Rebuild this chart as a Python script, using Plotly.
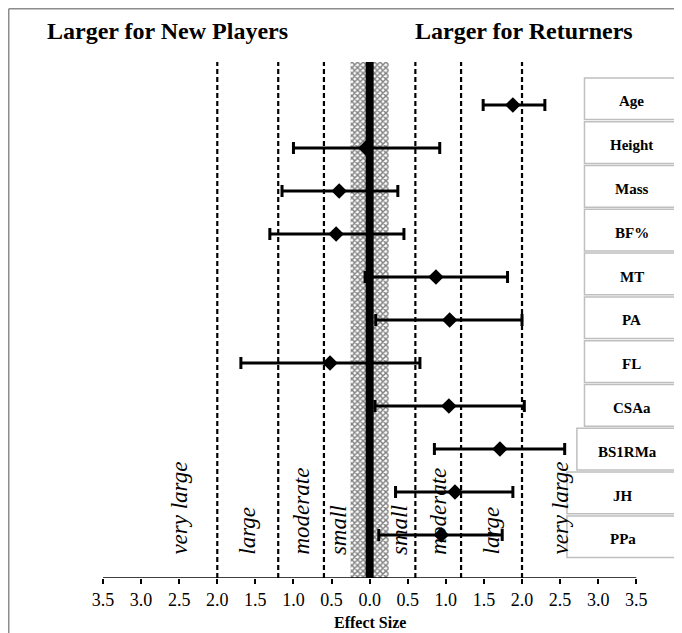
import plotly.graph_objects as go

# ---- data ----
labels = ["Age", "Height", "Mass", "BF%", "MT", "PA", "FL", "CSAa", "BS1RMa", "JH", "PPa"]
effect = [1.88, -0.05, -0.40, -0.44, 0.87, 1.05, -0.52, 1.04, 1.71, 1.12, 0.94]
ci_low = [1.49, -1.00, -1.15, -1.31, -0.06, 0.08, -1.69, 0.07, 0.85, 0.34, 0.12]
ci_high = [2.30, 0.92, 0.37, 0.45, 1.81, 2.00, 0.66, 2.03, 2.56, 1.88, 1.74]

thresholds = [0.6, 1.2, 2.0]
trivial = 0.25
zone_names = ["small", "moderate", "large", "very large"]
zone_centers = [0.4, 0.9, 1.6, 2.5]
tick_vals = [-3.5, -3.0, -2.5, -2.0, -1.5, -1.0, -0.5, 0.0, 0.5, 1.0, 1.5, 2.0, 2.5, 3.0, 3.5]

FONT = "Liberation Serif, Times New Roman, serif"
n = len(labels)
rows = [n - i for i in range(n)]  # Age at top
top_y = n + 1

fig = go.Figure()

# trivial band (patterned)
fig.add_trace(go.Scatter(
    x=[-trivial, trivial, trivial, -trivial, -trivial],
    y=[0, 0, top_y, top_y, 0],
    fill="toself", mode="lines", line=dict(width=0),
    fillcolor="black",
    fillpattern=dict(shape="x", size=4, solidity=0.6, fgcolor="black", bgcolor="white"),
    hoverinfo="skip", showlegend=False))

# effect sizes with CI
fig.add_trace(go.Scatter(
    x=effect, y=rows, mode="markers",
    marker=dict(symbol="diamond", size=12, color="black"),
    error_x=dict(type="data", symmetric=False,
                 array=[h - e for h, e in zip(ci_high, effect)],
                 arrayminus=[e - l for e, l in zip(effect, ci_low)],
                 color="black", thickness=3, width=6),
    showlegend=False))

shapes = []
# dashed threshold lines
for t in thresholds:
    for s in (-1, 1):
        shapes.append(dict(type="line", xref="x", yref="y", x0=s * t, x1=s * t, y0=0, y1=top_y,
                           line=dict(color="black", width=2.2, dash="5px,3px")))
# zero line
shapes.append(dict(type="line", xref="x", yref="y", x0=0, x1=0, y0=0, y1=top_y,
                   line=dict(color="black", width=8)))
# x axis line
shapes.append(dict(type="line", xref="x", yref="y", x0=tick_vals[0], x1=tick_vals[-1], y0=0, y1=0,
                   line=dict(color="black", width=1.5)))
# outer border (top & left)
shapes.append(dict(type="line", xref="paper", yref="paper", x0=-0.1628, x1=1.1, y0=1.1032, y1=1.1032,
                   line=dict(color="#8c8c8c", width=1.5)))
shapes.append(dict(type="line", xref="paper", yref="paper", x0=-0.1628, x1=-0.1628, y0=-0.2, y1=1.1032,
                   line=dict(color="#8c8c8c", width=1.5)))

annotations = []
# label boxes
box_left = [2.82] * 8 + [2.72, 2.59, 2.59]
box_right = 4.06
for i, lab in enumerate(labels):
    top = 11.63 - 1.0186 * i
    bot = top - 0.97
    shapes.append(dict(type="rect", xref="x", yref="y", x0=box_left[i], x1=box_right, y0=bot, y1=top,
                       line=dict(color="#bfbfbf", width=1.5), fillcolor="white", layer="below"))
    annotations.append(dict(x=(box_left[i] + box_right) / 2, y=(top + bot) / 2 - 0.06, xref="x", yref="y",
                            text="<b>%s</b>" % lab, showarrow=False,
                            font=dict(family=FONT, size=15, color="black")))

# zone labels
for name, c in zip(zone_names, zone_centers):
    for s in (-1, 1):
        annotations.append(dict(x=s * c, y=0.49, xref="x", yref="y", text="<i>%s</i>" % name,
                                textangle=-90, showarrow=False, xanchor="center", yanchor="bottom",
                                font=dict(family=FONT, size=23, color="black")))

# titles
annotations.append(dict(x=-0.1, y=1.06, xref="paper", yref="paper", xanchor="left", yanchor="middle",
                        text="<b>Larger for New Players</b>", showarrow=False,
                        font=dict(family=FONT, size=24, color="black")))
annotations.append(dict(x=0.535, y=1.06, xref="paper", yref="paper", xanchor="left", yanchor="middle",
                        text="<b>Larger for Returners</b>", showarrow=False,
                        font=dict(family=FONT, size=24, color="black")))
annotations.append(dict(x=0, y=-0.087, xref="x", yref="paper", xanchor="center", yanchor="middle",
                        text="<b>Effect Size</b>", showarrow=False,
                        font=dict(family=FONT, size=16, color="black")))

fig.update_layout(
    width=674, height=625,
    margin=dict(l=95, r=0, t=54, b=55),
    paper_bgcolor="white", plot_bgcolor="white",
    shapes=shapes, annotations=annotations,
    xaxis=dict(range=[-3.5, 4.1], tickvals=tick_vals,
               ticktext=["%.1f" % abs(v) for v in tick_vals],
               showgrid=False, zeroline=False, showline=False,
               ticks="outside", ticklen=5, tickwidth=1.5, tickcolor="black",
               tickfont=dict(family=FONT, size=18, color="black"), fixedrange=True),
    yaxis=dict(range=[0, top_y], visible=False, fixedrange=True),
    showlegend=False,
)

fig.write_html("out.html")
